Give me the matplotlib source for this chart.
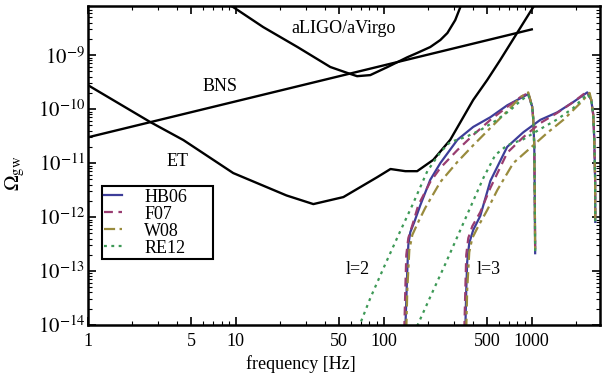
import numpy as np
import matplotlib
matplotlib.use('Agg')
import matplotlib.pyplot as plt
from matplotlib.ticker import FixedLocator, NullFormatter, LogLocator

plt.rcParams['font.family'] = ['Liberation Serif', 'DejaVu Serif']
plt.rcParams['mathtext.fontset'] = 'stix'

# detector sensitivity curves (frequency in Hz, log10 of Omega_gw)
aligo_f = [8.0, 9.6, 15.3, 26.1, 43.5, 56.7, 66, 81, 106, 144, 168, 206, 241, 269, 304, 329, 345]
aligo_log = [-7.98, -8.11, -8.48, -8.85, -9.22, -9.33, -9.39, -9.37, -9.22, -9.04, -8.96,
             -8.85, -8.72, -8.59, -8.35, -8.11, -7.98]

et_f = [1.0, 2.64, 4.42, 9.6, 22, 33.4, 53.3, 90.4, 111, 139.7, 168, 216, 281, 402, 500, 612, 1023, 1100]
et_log = [-9.556, -10.24, -10.574, -11.185, -11.6, -11.76, -11.63, -11.26, -11.11, -11.15,
          -11.15, -10.94, -10.57, -9.83, -9.46, -9.09, -8.11, -7.97]

bns_f = [1, 1000]
bns_omega = [3.0e-11, 3.0e-9]

# l=2 spectra
hb06_l2_f = [139.7, 141.9, 144.1, 146.4, 151, 160.8, 176.5, 206, 241, 314, 402, 525, 682, 836, 947]
hb06_l2_log = [-14.09, -13.54, -12.98, -12.52, -12.28, -12.09, -11.78, -11.31, -11.0, -10.57,
               -10.33, -10.15, -9.93, -9.80, -9.72]
f07_l2_f = [137.5, 139.7, 141.9, 146.4, 155.9, 171, 206, 241, 314, 402, 525, 682, 836, 947]
f07_l2_log = [-14.09, -13.35, -12.70, -12.39, -12.15, -11.78, -11.35, -11.09, -10.76, -10.48,
              -10.20, -9.96, -9.78, -9.70]
w08_l2_f = [141.9, 144.1, 148.7, 155.9, 171, 190.6, 241, 314, 402, 525, 682, 836, 947]
w08_l2_log = [-14.09, -13.35, -12.61, -12.33, -12.09, -11.83, -11.35, -10.98, -10.67, -10.35,
              -10.04, -9.78, -9.69]
re12_l2_f = [67.3, 81.1, 102.4, 129.2, 155.9, 196.8, 241, 281, 355.5, 448.6, 566.6, 715.5, 836, 947]
re12_l2_log = [-14.06, -13.5, -12.87, -12.26, -11.78, -11.15, -10.80, -10.61, -10.52, -10.39,
               -10.22, -10.02, -9.85, -9.74]
l2_drop_f = [1008, 1024, 1040, 1048, 1054]
l2_drop_log = [-9.96, -10.20, -10.70, -11.69, -12.67]

# l=3 spectra
hb06_l3_f = [355.5, 360.7, 366, 378, 402, 448.6, 525, 682, 876, 1141, 1487, 1906, 2372]
hb06_l3_log = [-14.09, -13.35, -12.83, -12.48, -12.24, -11.98, -11.33, -10.70, -10.43, -10.20,
               -10.06, -9.87, -9.69]
f07_l3_f = [350, 355.5, 360.7, 372.3, 396.2, 448.6, 525, 682, 876, 1141, 1487, 1906, 2372]
f07_l3_log = [-14.09, -13.35, -12.70, -12.39, -12.17, -11.91, -11.46, -10.81, -10.52, -10.26,
              -10.07, -9.87, -9.67]
w08_l3_f = [360.7, 366, 378, 396.2, 435, 500, 585, 750, 997, 1273, 1633, 2127, 2458]
w08_l3_log = [-14.09, -13.35, -12.65, -12.39, -12.17, -11.87, -11.50, -11.0, -10.70, -10.44,
              -10.20, -9.89, -9.70]
re12_l3_f = [168, 206, 260.4, 329, 396.2, 470, 566.6, 682, 876, 1141, 1487, 1906, 2372]
re12_l3_log = [-14.02, -13.48, -12.87, -12.24, -11.74, -11.28, -10.85, -10.67, -10.56, -10.37,
               -10.19, -9.98, -9.72]
l3_drop_f = [2524, 2604, 2645, 2680, 2686]
l3_drop_log = [-9.83, -10.11, -10.57, -11.31, -12.09]

labels = ['HB06', 'F07', 'W08', 'RE12']
colors = ['#3d3d99', '#993d71', '#998b3d', '#3d9956']
styles = ['-', (0, (4, 2.5)), (0, (5, 2, 1.5, 2)), (0, (1.3, 2))]

l2_sets = [(hb06_l2_f, hb06_l2_log), (f07_l2_f, f07_l2_log), (w08_l2_f, w08_l2_log), (re12_l2_f, re12_l2_log)]
l3_sets = [(hb06_l3_f, hb06_l3_log), (f07_l3_f, f07_l3_log), (w08_l3_f, w08_l3_log), (re12_l3_f, re12_l3_log)]

fig = plt.figure(figsize=(6.02, 3.81), dpi=100)
ax = fig.add_axes([0.146, 0.147, 0.851, 0.837])

ax.plot(aligo_f, 10**np.array(aligo_log), color='k', lw=1.7)
ax.plot(et_f, 10**np.array(et_log), color='k', lw=1.7)
ax.plot(bns_f, bns_omega, color='k', lw=1.7)

for i in range(4):
    f2, y2 = l2_sets[i]
    f3, y3 = l3_sets[i]
    ax.plot(list(f2) + l2_drop_f, 10**np.array(list(y2) + l2_drop_log), color=colors[i],
            ls=styles[i], lw=1.6, label=labels[i])
    ax.plot(list(f3) + l3_drop_f, 10**np.array(list(y3) + l3_drop_log), color=colors[i],
            ls=styles[i], lw=1.6)

ax.set_xscale('log')
ax.set_yscale('log')
ax.set_xlim(1, 2900)
ax.set_ylim(1e-14, 8.1e-9)

ax.xaxis.set_major_locator(FixedLocator([1, 5, 10, 50, 100, 500, 1000]))
ax.set_xticklabels(['1', '5', '10', '50', '100', '500', '1000'])
ax.xaxis.set_minor_locator(FixedLocator([2, 3, 4, 6, 7, 8, 9, 20, 30, 40, 60, 70, 80, 90,
                                         200, 300, 400, 600, 700, 800, 900, 2000]))
ax.xaxis.set_minor_formatter(NullFormatter())
ax.set_yticks([1e-14, 1e-13, 1e-12, 1e-11, 1e-10, 1e-9])
ax.set_yticklabels(['$10^{-14}$', '$10^{-13}$', '$10^{-12}$', '$10^{-11}$', '$10^{-10}$', '$10^{-9}$'])
ax.yaxis.set_minor_locator(LogLocator(base=10, subs=np.arange(2, 10) * 1.0, numticks=20))
ax.yaxis.set_minor_formatter(NullFormatter())

ax.tick_params(which='both', direction='in', top=True, right=True, width=1.2)
ax.tick_params(axis='x', labelsize=13, pad=6)
ax.tick_params(axis='y', labelsize=15, pad=2)
ax.tick_params(which='major', length=6)
ax.tick_params(which='minor', length=3, width=0.8)
for s in ax.spines.values():
    s.set_linewidth(1.8)

ax.text(53.3, 10**-8.5, 'aLIGO/aVirgo', fontsize=13, ha='center', va='center')
ax.text(7.86, 10**-9.59, 'BNS', fontsize=13, ha='center', va='center')
ax.text(4.03, 10**-10.98, 'ET', fontsize=13, ha='center', va='center')
ax.text(66.2, 10**-12.98, 'l=2', fontsize=13, ha='center', va='center')
ax.text(508, 10**-12.98, 'l=3', fontsize=13, ha='center', va='center')

fig.text(0.5, 0.045, 'frequency [Hz]', fontsize=13, ha='center', va='center')
fig.text(0.026, 0.545, r'$\Omega_{\rm gw}$', fontsize=15, ha='center', va='center', rotation=90)

leg = ax.legend(loc='upper left', bbox_to_anchor=(0.027, 0.206, 0.217, 0.23), mode='expand',
                fontsize=13, frameon=True, fancybox=False, framealpha=1, edgecolor='k',
                handlelength=1.0, handletextpad=1.2, labelspacing=0.0, borderpad=0.15,
                borderaxespad=0)
leg.get_frame().set_linewidth(1.5)

fig.savefig('out.png', dpi=100)
